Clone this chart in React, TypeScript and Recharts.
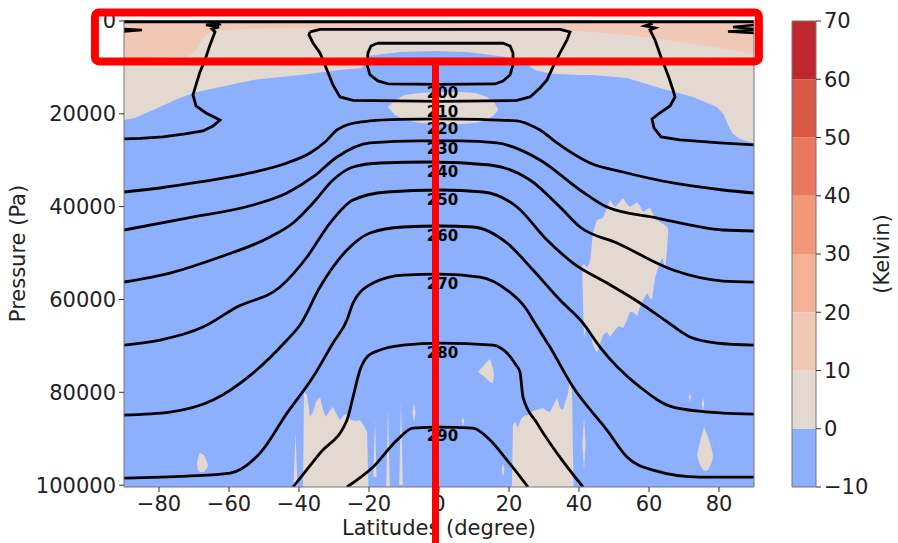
import React from 'react';
import {
  ComposedChart,
  Area,
  Line,
  Scatter,
  XAxis,
  YAxis,
  ReferenceArea,
  ReferenceLine,
} from 'recharts';

type Pt = [number, number]; // [latitude, pressure]
type Band = [number, number, number]; // [latitude, upper pressure, lower pressure]

const FONT = '"DejaVu Sans", "Liberation Sans", sans-serif';
const INK = '#222';

const latTicks = [-80, -60, -40, -20, 0, 20, 40, 60, 80];
const pressureTicks = [0, 20000, 40000, 60000, 80000, 100000];
const P_TOP = -200;
const P_BOTTOM = 100400;

// shading steps (Kelvin) and their colours
const colorLevels = [-10, 0, 10, 20, 30, 40, 50, 60, 70];
const bandColors = ['#8db0fe', '#e4d9d1', '#f1c8b6', '#f5b296', '#f2987a', '#e8785f', '#da5846', '#c0282f'];

// 0..10 K fills the whole section, the other steps are painted over it
const neutralExtent: Band[] = [
  [-90, P_TOP, P_BOTTOM],
  [90, P_TOP, P_BOTTOM],
];

// lower edge of the 10..20 K cap near the model top
const warmCapEdge: Pt[] = [
  [-90, 7974], [-82.6, 7974], [-72, 7758], [-69.7, 6681], [-68.3, 4741], [-66.9, 3233],
  [-64.9, 2371], [-61.1, 1940], [-51.1, 1616], [-39.7, 1509], [0, 1400], [34.6, 1940],
  [44, 2371], [53.7, 3017], [63.1, 3879], [72.6, 4957], [82.3, 6034], [90, 7112],
];

// upper edge of the -10..0 K region
const coolEdge: Pt[] = [
  [-90, 21335], [-86.9, 20904], [-81.7, 19180], [-75.4, 17025], [-70.3, 15516], [-62.6, 14223],
  [-53.1, 12715], [-39.7, 11637], [-28.3, 10560], [-22.1, 10130], [-20.5, 7543], [-11.1, 6681],
  [-1.7, 6465], [8, 6681], [19.4, 7758], [21.7, 8405], [25.1, 9266], [27.4, 10560], [31.1, 11206],
  [33.7, 11422], [40.3, 11637], [44, 11637], [53.7, 12284], [63.1, 14439], [72.6, 16378],
  [79.4, 18533], [81.4, 20257], [82.6, 22412], [84, 24352], [86, 25429], [90, 26291],
];

// 0..10 K patches inside the cool region
const equatorPatch: Band[] = [
  [-14.6, 18533, 18533], [-12.6, 17025, 20257], [-9.7, 15947, 21335], [-5.4, 15516, 21981],
  [0.3, 15301, 22197], [6, 15301, 22197], [10.3, 15516, 21981], [13.7, 16378, 21335],
  [15.7, 17456, 20257], [16.9, 19072, 19180],
];
const midlatPatch: Band[] = [
  [40.86, 52798, 52798], [41.43, 52367, 68314], [42.29, 53229, 65512], [43.14, 51935, 66590],
  [44.0, 45686, 69822], [45.14, 42885, 71546], [46.86, 42454, 67667], [48.0, 40299, 67020],
  [48.86, 38575, 68098], [50.29, 40083, 66590], [51.43, 39221, 65728], [52.57, 38144, 66159],
  [53.71, 39437, 64435], [54.57, 40083, 62711], [55.43, 39652, 62711], [56.57, 39006, 63573],
  [57.43, 39868, 61633], [58.29, 41161, 60125], [59.43, 40514, 58616], [60.29, 40299, 59694],
  [60.86, 41161, 60125], [61.71, 42238, 55384], [63.14, 43316, 51936], [64.0, 43747, 51074],
  [64.57, 43962, 53660], [65.14, 44393, 49350], [65.43, 44824, 45902],
];
const surfacePatchSouth: Band[] = [
  [-38.86, 100400, 100400], [-38.57, 79951, 100400], [-37.71, 80597, 100400], [-36.86, 85338, 100400],
  [-36.0, 84261, 100400], [-35.14, 82106, 100400], [-34.0, 81028, 100400], [-33.14, 83830, 100400],
  [-32.29, 85338, 100400], [-31.14, 83830, 100400], [-30.29, 83183, 100400], [-29.14, 84907, 100400],
  [-28.29, 85985, 100400], [-27.14, 84907, 100400], [-26.29, 84692, 100400], [-25.14, 85985, 100400],
  [-23.71, 86200, 100400], [-22.57, 85985, 100400], [-21.43, 87278, 100400], [-20.57, 88571, 100400],
  [-20.14, 100400, 100400],
];
const surfacePatchNorth: Band[] = [
  [20.86, 100400, 100400], [21.14, 87062, 100400], [21.71, 86416, 100400], [22.57, 87709, 100400],
  [23.43, 85769, 100400], [24.29, 85123, 100400], [25.43, 84907, 100400], [26.86, 84045, 100400],
  [28.0, 83830, 100400], [29.71, 83399, 100400], [30.86, 84045, 100400], [31.71, 84261, 100400],
  [32.57, 82968, 100400], [33.71, 81244, 100400], [34.57, 83399, 100400], [35.43, 83830, 100400],
  [36.29, 81675, 100400], [36.86, 80382, 100400], [37.43, 77580, 100400], [38.0, 79520, 100400],
  [38.43, 100400, 100400],
];
const kitePatch: Band[] = [
  [11.14, 75641, 75641], [13.14, 73917, 76718], [14.57, 72839, 77796], [15.43, 74778, 78012], [15.71, 76287, 76287],
];
const dropSouth: Band[] = [
  [-69.14, 95467, 95467], [-68.86, 94174, 96760], [-68.29, 93096, 97191], [-67.14, 93527, 97191],
  [-66.29, 95036, 96329], [-66.0, 95683, 95683],
];
const dropNorth: Band[] = [
  [73.71, 93527, 93527], [74.57, 90726, 95682], [75.71, 87493, 96975], [76.86, 89648, 96760],
  [78.0, 92450, 95036], [78.29, 93743, 93743],
];
// thin slivers near the surface
const sliverA: Band[] = [[-41.57, 100400, 100400], [-41.0, 88786, 100400], [-40.43, 100400, 100400]];
const sliverB: Band[] = [[-18.74, 98268, 98268], [-18.29, 85985, 98268], [-17.84, 98268, 98268]];
const sliverC: Band[] = [[-15.07, 100400, 100400], [-14.57, 83399, 100400], [-14.07, 100400, 100400]];
const sliverD: Band[] = [[-11.36, 99992, 99992], [-10.86, 82106, 99992], [-10.36, 99992, 99992]];
const sliverE: Band[] = [[-7.6, 84368, 84368], [-7.14, 82321, 86415], [-6.7, 84368, 84368]];
const sliverF: Band[] = [[41.0, 91000, 91000], [41.43, 85338, 96759], [41.86, 91000, 91000]];
const sliverG: Band[] = [[17.9, 96760, 96760], [18.29, 95251, 98268], [18.7, 96760, 96760]];
const sliverH: Band[] = [[6.5, 86300, 86300], [6.86, 85338, 87278], [7.2, 86300, 86300]];
const sliverI: Band[] = [[71.4, 81136, 81136], [71.71, 80166, 82106], [72.0, 81136, 81136]];
const sliverJ: Band[] = [[75.1, 82537, 82537], [75.43, 81244, 83830], [75.8, 82537, 82537]];

const neutralPatches = [
  equatorPatch, midlatPatch, surfacePatchSouth, surfacePatchNorth, kitePatch, dropSouth, dropNorth,
  sliverA, sliverB, sliverC, sliverD, sliverE, sliverF, sliverG, sliverH, sliverI, sliverJ,
];

// temperature contours (K)
const topCrowd: Pt[] = [[-90, 150], [90, 150]];
const tongueSW: Pt[] = [[-90, 1724], [-84.86, 1940], [-90, 2263]];
const tongueNE1: Pt[] = [[90, 862], [84, 1293], [90, 1724]];
const tongueNE2: Pt[] = [[90, 1940], [82.57, 2263], [90, 2586]];
const polarSouth: Pt[] = [
  [-63.43, 108], [-62.86, 647], [-66.57, 862], [-62.86, 1293], [-64.86, 1724], [-64.0, 2371],
  [-65.43, 5172], [-66.86, 8405], [-68.29, 10991], [-69.43, 13792], [-70.29, 15947], [-69.43, 18318],
  [-66.57, 19826], [-62.57, 21335], [-64.57, 22628], [-67.43, 23705], [-72.57, 24352], [-78.86, 24998],
  [-85.43, 25321], [-90, 25429],
];
const polarNorth: Pt[] = [
  [60.0, 108], [60.57, 647], [58.86, 1078], [61.71, 1509], [60.29, 1940], [61.71, 4095],
  [63.43, 7758], [65.43, 11637], [66.86, 14870], [67.43, 16378], [66.0, 18318], [63.14, 19826],
  [60.86, 21119], [61.43, 23059], [63.43, 24998], [68.86, 25645], [80.29, 26291], [90, 26722],
];
const contour200: Pt[] = [
  [-17.71, 4806], [0.29, 4806], [18.29, 4806], [20.29, 5388], [21.14, 6896], [21.14, 9482],
  [20.29, 11637], [18.29, 12930], [16.0, 13577], [0.29, 13684], [-14.57, 13577], [-17.43, 12930],
  [-19.71, 11637], [-20.57, 9482], [-20.29, 6896], [-19.43, 5388], [-17.71, 4806],
];
const contour210: Pt[] = [
  [-36.86, 2371], [-34.0, 1832], [0.29, 1832], [34.57, 1832], [37.43, 2371], [36.57, 4095],
  [34.57, 6896], [32.57, 9913], [30.86, 12715], [28.86, 14439], [26.0, 16378], [22.29, 17132],
  [0.29, 17348], [-24.57, 17132], [-28.29, 16378], [-30.29, 13792], [-32.0, 10560], [-34.0, 6896],
  [-36.0, 4741], [-37.14, 3017], [-36.86, 2371],
];
const contour220: Pt[] = [
  [-90, 36851], [-79.71, 35989], [-68.29, 34696], [-54.0, 32756], [-43.43, 30601], [-36.86, 28446],
  [-32.57, 26076], [-29.14, 23490], [-25.43, 22197], [-19.71, 21550], [-11.14, 21227], [0.29, 21119],
  [11.71, 21227], [22.29, 21550], [26.0, 22412], [28.86, 23490], [33.71, 26291], [43.14, 30601],
  [52.57, 32541], [66.86, 34911], [81.14, 36420], [90, 37066],
];
const contour230: Pt[] = [
  [-90, 45040], [-72, 42454], [-53.14, 39652], [-43.43, 37066], [-36.0, 33618], [-29.14, 29308],
  [-19.71, 26291], [-5.43, 25860], [6, 25860], [16.57, 26291], [28.86, 29955], [40.29, 36420],
  [48.0, 40083], [62.29, 42454], [81.14, 45040], [90, 45255],
];
const contour240: Pt[] = [
  [-90, 56246], [-76.86, 54306], [-62.57, 50858], [-48.29, 46548], [-41.71, 43531], [-36.0, 39221],
  [-30.29, 34265], [-24.57, 31463], [-16.86, 30601], [-2.57, 30386], [14.57, 31032], [26.0, 34265],
  [34.57, 40083], [40.29, 44393], [50.86, 47841], [66.86, 53660], [81.14, 56030], [90, 56246],
];
const contour250: Pt[] = [
  [-90, 69822], [-79.71, 68745], [-67.43, 65943], [-57.71, 61633], [-45.43, 57323], [-37.71, 50858],
  [-31.14, 43531], [-24.57, 38575], [-14.86, 36851], [0.29, 36420], [12.57, 36851], [22.29, 40083],
  [30.86, 47195], [38.29, 52151], [48.0, 56461], [57.43, 60771], [64.5, 64435], [71.71, 68098],
  [79.43, 69391], [90, 69822],
];
const contour260: Pt[] = [
  [-90, 84907], [-76.86, 84261], [-64.57, 81675], [-53.14, 75856], [-43.43, 68745], [-39.71, 65512],
  [-34.0, 57323], [-26.29, 49350], [-19.71, 45686], [-10.29, 44393], [0.29, 44178], [9.71, 44393],
  [19.43, 47841], [26.86, 53660], [34.57, 60125], [41.14, 65081], [46.0, 70253], [57.43, 78873],
  [66.86, 83183], [81.14, 84476], [90, 84692],
];
const contour270: Pt[] = [
  [-90, 98484], [-72, 98053], [-59.71, 97406], [-51.14, 93096], [-43.43, 84476], [-36.0, 76718],
  [-30.29, 69391], [-26.29, 64435], [-24.57, 60771], [-18.86, 56461], [-10.29, 54737], [0.29, 54522],
  [11.71, 55168], [19.43, 57970], [25.14, 62280], [26.86, 64435], [31.71, 70253], [38.29, 78873],
  [48.0, 88140], [53.71, 93958], [61.14, 96760], [74.57, 98268], [90, 98268],
];
const contour280: Pt[] = [
  [-41.71, 100400], [-34.0, 93096], [-26.29, 85985], [-24.57, 81028], [-22.57, 75210], [-20.29, 72193],
  [-16.86, 70900], [-10.29, 69822], [0.29, 69391], [15.43, 69822], [19.43, 71546], [22.0, 74132],
  [23.14, 75641], [24.0, 81028], [28.0, 86631], [33.71, 93096], [41.14, 100400],
];
const contour290: Pt[] = [
  [-26.29, 100400], [-18.86, 96113], [-12.0, 90295], [-7.43, 87709], [0.29, 87493], [9.71, 87709],
  [14.57, 90295], [19.43, 94605], [25.43, 100400],
];

const contours: { pts: Pt[]; curve: 'linear' | 'monotoneX'; width: number }[] = [
  { pts: topCrowd, curve: 'linear', width: 3 },
  { pts: tongueSW, curve: 'linear', width: 2.5 },
  { pts: tongueNE1, curve: 'linear', width: 2.5 },
  { pts: tongueNE2, curve: 'linear', width: 2.5 },
  { pts: polarSouth, curve: 'linear', width: 2.8 },
  { pts: polarNorth, curve: 'linear', width: 2.8 },
  { pts: contour200, curve: 'linear', width: 2.8 },
  { pts: contour210, curve: 'linear', width: 2.8 },
  { pts: contour220, curve: 'monotoneX', width: 2.8 },
  { pts: contour230, curve: 'monotoneX', width: 2.8 },
  { pts: contour240, curve: 'monotoneX', width: 2.8 },
  { pts: contour250, curve: 'monotoneX', width: 2.8 },
  { pts: contour260, curve: 'monotoneX', width: 2.8 },
  { pts: contour270, curve: 'monotoneX', width: 2.8 },
  { pts: contour280, curve: 'monotoneX', width: 2.8 },
  { pts: contour290, curve: 'monotoneX', width: 2.8 },
];

// contour labels down the equator
const labelLevels = [200, 210, 220, 230, 240, 250, 260, 270, 280, 290];
const labelPressures = [15624, 19611, 23274, 27584, 32541, 38575, 46333, 56677, 71546, 89433];
const LABEL_LAT = 1;

// highlight box over the upper levels and the equator marker
const boxLat: [number, number] = [-98.3, 91.4];
const boxPressure: [number, number] = [-1832, 8728];
const markerLat = -1.0;
const markerPressure: [number, number] = [8728, 112491];

const toLine = (pts: Pt[]) => pts.map(([lat, p]) => ({ lat, p }));
const toBand = (pts: Band[]) => pts.map(([lat, top, bottom]) => ({ lat, band: [top, bottom] }));
const capBand = (edge: Pt[]) => edge.map(([lat, p]) => ({ lat, band: [P_TOP, p] }));
const floorBand = (edge: Pt[]) => edge.map(([lat, p]) => ({ lat, band: [p, P_BOTTOM] }));

const levelLabels = labelLevels.map((level, i) => ({ lat: LABEL_LAT, p: labelPressures[i], level }));

const fmtTick = (v: number) => String(v).replace('-', '\u2212');

const tickStyle = { fontSize: 21, fill: INK, fontFamily: FONT };

const LevelText = (props: any) => {
  const { cx, cy, payload } = props;
  return (
    <text
      x={cx}
      y={cy}
      textAnchor="middle"
      dominantBaseline="central"
      fontFamily={FONT}
      fontSize={15}
      fontWeight="bold"
      fill="#000"
    >
      {payload.level}
    </text>
  );
};

const ColorBar = () => {
  const rows = bandColors.map((_, i) => [
    { x: 0, band: [colorLevels[i], colorLevels[i + 1]] },
    { x: 1, band: [colorLevels[i], colorLevels[i + 1]] },
  ]);
  return (
    <ComposedChart width={138} height={543} margin={{ top: 21, right: 0, bottom: 56, left: 32 }}>
      <XAxis type="number" dataKey="x" domain={[0, 1]} hide />
      <YAxis
        type="number"
        orientation="right"
        domain={[-10, 70]}
        ticks={colorLevels}
        interval={0}
        allowDataOverflow
        width={82}
        tickFormatter={fmtTick}
        tick={tickStyle}
        tickSize={5}
        tickMargin={3}
        axisLine={false}
        tickLine={{ stroke: '#333' }}
        label={{
          value: '(Kelvin)',
          angle: -90,
          position: 'center',
          dx: 25,
          fontSize: 21,
          fill: INK,
          fontFamily: FONT,
        }}
      />
      {rows.map((data, i) => (
        <Area
          key={`cb-${i}`}
          data={data}
          dataKey="band"
          type="linear"
          fill={bandColors[i]}
          fillOpacity={1}
          stroke="none"
          isAnimationActive={false}
        />
      ))}
      <ReferenceArea x1={0} x2={1} y1={-10} y2={70} fill="none" stroke="#777" strokeWidth={1} ifOverflow="visible" />
    </ComposedChart>
  );
};

export default function App() {
  return (
    <div style={{ position: 'absolute', left: 0, top: 0, width: 898, height: 543, background: '#fff', fontFamily: FONT }}>
      <ComposedChart width={898} height={543} margin={{ top: 20, right: 144, bottom: 0, left: 0 }}>
        <XAxis
          type="number"
          dataKey="lat"
          domain={[-90, 90]}
          ticks={latTicks}
          interval={0}
          allowDataOverflow
          height={56}
          tickFormatter={fmtTick}
          tick={tickStyle}
          tickSize={5}
          tickMargin={4}
          axisLine={{ stroke: '#777' }}
          tickLine={{ stroke: '#333' }}
          label={{
            value: 'Latitudes (degree)',
            position: 'insideBottom',
            offset: 8,
            fontSize: 21,
            fill: INK,
            fontFamily: FONT,
          }}
        />
        <YAxis
          type="number"
          dataKey="p"
          reversed
          domain={[P_TOP, P_BOTTOM]}
          ticks={pressureTicks}
          interval={0}
          allowDataOverflow
          width={124}
          tick={tickStyle}
          tickSize={5}
          tickMargin={3}
          axisLine={{ stroke: '#777' }}
          tickLine={{ stroke: '#333' }}
          label={{
            value: 'Pressure (Pa)',
            angle: -90,
            position: 'center',
            dx: -44,
            fontSize: 21,
            fill: INK,
            fontFamily: FONT,
          }}
        />

        <Area data={toBand(neutralExtent)} dataKey="band" type="linear" fill={bandColors[1]} fillOpacity={1} stroke="none" isAnimationActive={false} />
        <Area data={capBand(warmCapEdge)} dataKey="band" type="linear" fill={bandColors[2]} fillOpacity={1} stroke="none" isAnimationActive={false} />
        <Area data={floorBand(coolEdge)} dataKey="band" type="linear" fill={bandColors[0]} fillOpacity={1} stroke="none" isAnimationActive={false} />
        {neutralPatches.map((patch, i) => (
          <Area
            key={`patch-${i}`}
            data={toBand(patch)}
            dataKey="band"
            type="linear"
            fill={bandColors[1]}
            fillOpacity={1}
            stroke="none"
            isAnimationActive={false}
          />
        ))}

        {contours.map((c, i) => (
          <Line
            key={`contour-${i}`}
            data={toLine(c.pts)}
            dataKey="p"
            type={c.curve}
            stroke="#000"
            strokeWidth={c.width}
            dot={false}
            activeDot={false}
            isAnimationActive={false}
          />
        ))}

        <Scatter data={levelLabels} dataKey="p" shape={LevelText} isAnimationActive={false} />

        <ReferenceLine x={90} stroke="#777" strokeWidth={1} />

        <ReferenceArea
          x1={boxLat[0]}
          x2={boxLat[1]}
          y1={boxPressure[0]}
          y2={boxPressure[1]}
          fill="none"
          stroke="#ff0000"
          strokeWidth={8}
          radius={4}
          ifOverflow="visible"
          zIndex={3000}
        />
        <ReferenceLine
          segment={[
            { x: markerLat, y: markerPressure[0] },
            { x: markerLat, y: markerPressure[1] },
          ]}
          stroke="#ff0000"
          strokeWidth={7}
          ifOverflow="visible"
          zIndex={3000}
        />
      </ComposedChart>
      <div style={{ position: 'absolute', left: 760, top: 0 }}>
        <ColorBar />
      </div>
    </div>
  );
}
